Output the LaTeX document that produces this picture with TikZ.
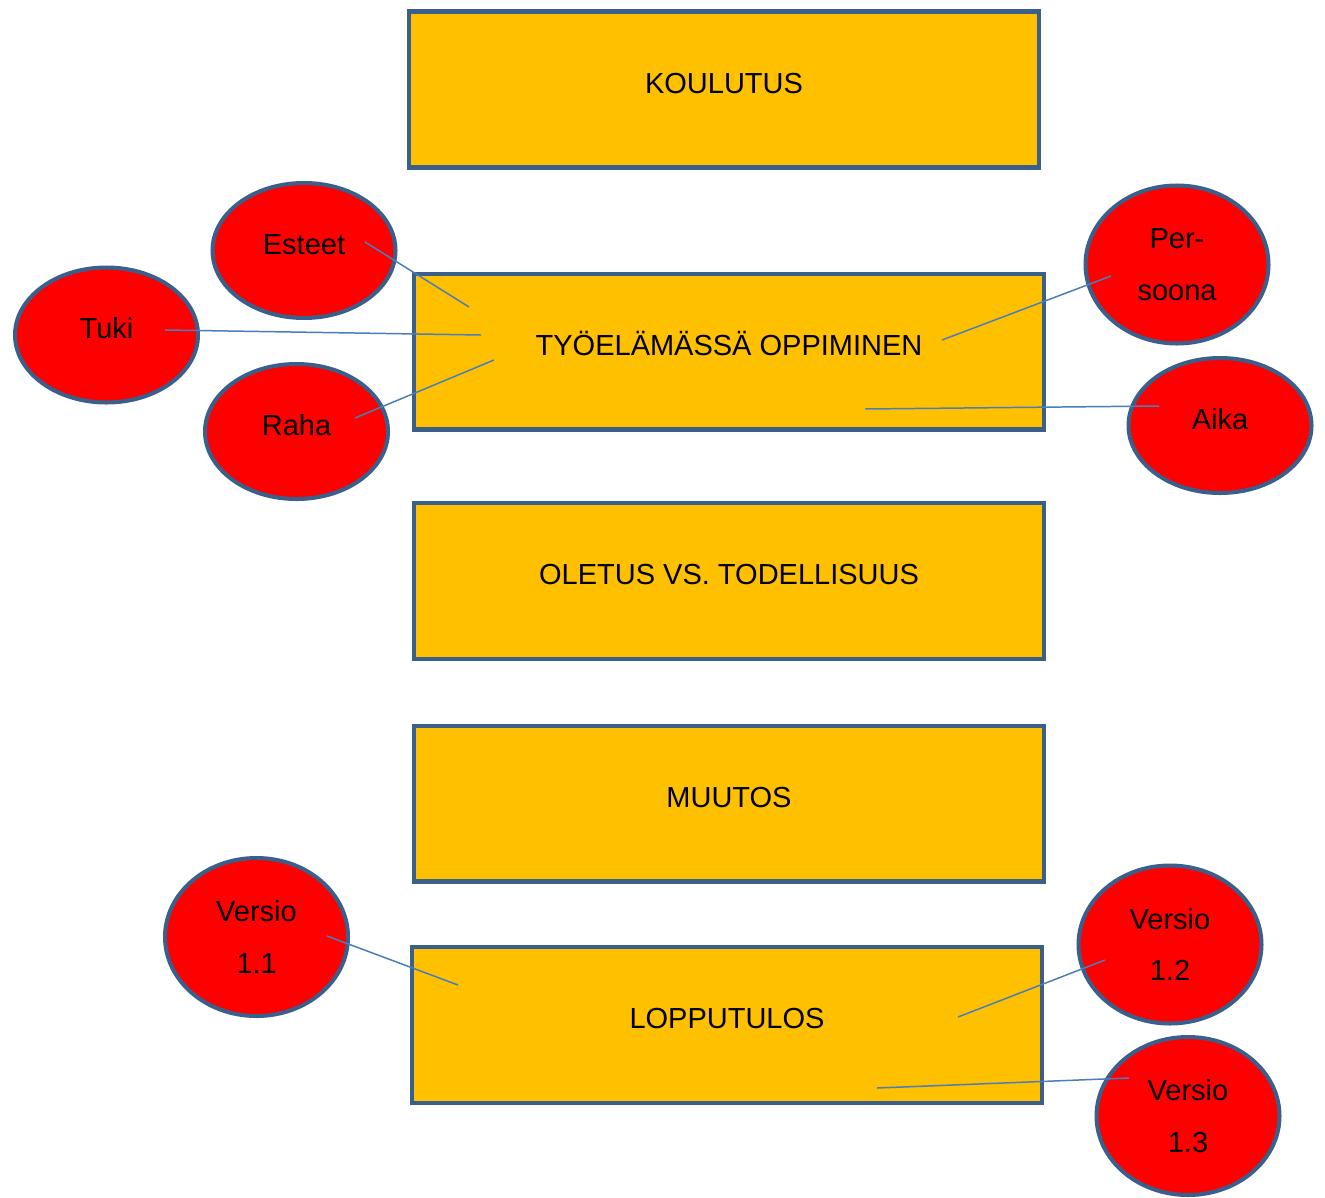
\documentclass[tikz,border=0pt]{standalone}
\usepackage{fontspec}
\setmainfont{Liberation Sans}
\usetikzlibrary{shapes.geometric}
\definecolor{boxfill}{HTML}{FFC000}
\definecolor{edgeblue}{HTML}{3A5F8B}
\definecolor{linkblue}{HTML}{4A7EBB}
\begin{document}
\begin{tikzpicture}[x=0.02cm, y=-0.02cm, font=\fontsize{16.5}{29.5}\selectfont,
  stage/.style={draw=edgeblue, line width=2.3pt, fill=boxfill, minimum width=12.6cm, minimum height=3.12cm, inner sep=0pt, text height=11.8pt, text depth=7.4pt},
  factor/.style={ellipse, draw=edgeblue, line width=2.3pt, fill=red, minimum width=3.66cm, minimum height=2.7cm, inner sep=0pt, align=center},
  tall/.style={minimum height=3.16cm},
  lift/.style={text height=11.8pt, text depth=7.4pt},
  link/.style={draw=linkblue, line width=0.85pt}]
\useasboundingbox (0,0) rectangle (1325,1197);
\fill[white] (0,0) rectangle (1325,1197);
% main stages
\node[stage] (koulutus) at (724,89.5) {KOULUTUS};
\node[stage] (tyossa) at (729,351.5) {TYÖELÄMÄSSÄ OPPIMINEN};
\node[stage] (oletus) at (729,581) {OLETUS VS. TODELLISUUS};
\node[stage] (muutos) at (729,803.5) {MUUTOS};
\node[stage] (lopputulos) at (727,1025) {LOPPUTULOS};
% factors around the stages
\node[factor, lift] (esteet) at (304,250.5) {Esteet};
\node[factor, lift] (tuki) at (106.5,335) {Tuki};
\node[factor, lift] (raha) at (296.5,431.5) {Raha};
\node[factor, tall] (persoona) at (1177,264.5) {Per-\\soona};
\node[factor, lift] (aika) at (1220,425.5) {Aika};
\node[factor, tall] (versio11) at (256.5,937) {Versio\\1.1};
\node[factor, tall] (versio12) at (1170,944.5) {Versio\\1.2};
\node[factor, tall] (versio13) at (1188,1116) {Versio\\1.3};
% line ends
\coordinate (esteet-a) at (365,242);
\coordinate (tyossa-a) at (469,307);
\coordinate (tuki-a) at (165,330);
\coordinate (tyossa-b) at (481,335);
\coordinate (raha-a) at (355,418);
\coordinate (tyossa-c) at (494,360);
\coordinate (persoona-a) at (1111,276);
\coordinate (tyossa-d) at (942,340);
\coordinate (aika-a) at (1159,406);
\coordinate (tyossa-e) at (865,409);
\coordinate (versio11-a) at (327,936);
\coordinate (lopputulos-a) at (458,985);
\coordinate (versio12-a) at (1105,960);
\coordinate (lopputulos-b) at (958,1017);
\coordinate (versio13-a) at (1129,1078);
\coordinate (lopputulos-c) at (877,1088);
\draw[link] (esteet-a) -- (tyossa-a);
\draw[link] (tuki-a) -- (tyossa-b);
\draw[link] (raha-a) -- (tyossa-c);
\draw[link] (persoona-a) -- (tyossa-d);
\draw[link] (aika-a) -- (tyossa-e);
\draw[link] (versio11-a) -- (lopputulos-a);
\draw[link] (versio12-a) -- (lopputulos-b);
\draw[link] (versio13-a) -- (lopputulos-c);
\end{tikzpicture}
\end{document}
